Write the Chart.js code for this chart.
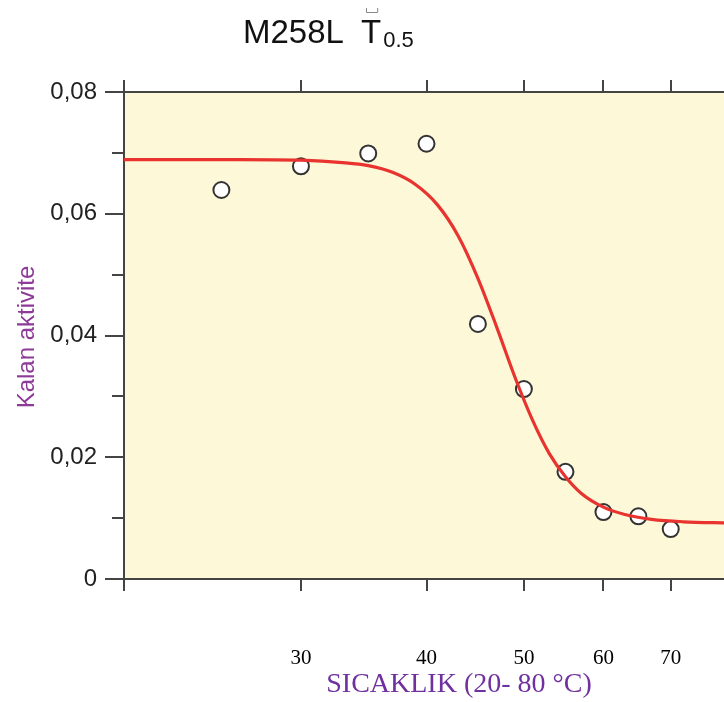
<!DOCTYPE html>
<html>
<head>
<meta charset="utf-8">
<script src="https://cdn.jsdelivr.net/npm/chart.js@4/dist/chart.umd.min.js"></script>
<style>
  html, body { margin: 0; padding: 0; overflow: hidden; background: #fff; }
  canvas { display: block; }
</style>
</head>
<body>
<canvas id="myChart" width="740" height="702"></canvas>
<script>
// measured points
const temps = [25, 30, 35, 40, 45, 50, 55, 60, 65, 70];
const activity = [0.0639, 0.0678, 0.0699, 0.0715, 0.0419, 0.0312, 0.0176, 0.0110, 0.0103, 0.0082];

// fitted curve
const curveTemps = [20, 26, 30, 33, 35, 37, 39, 41, 43, 45, 47, 49, 51, 53, 55, 57, 60, 63, 67, 72, 80];
const curveActivity = [0.0689, 0.0689, 0.0688, 0.0684, 0.0679, 0.0668, 0.0648, 0.0615, 0.0564, 0.0494,
  0.0413, 0.0331, 0.0261, 0.0206, 0.0168, 0.0141, 0.0118, 0.0106, 0.0098, 0.0094, 0.0092];

const xTicks = [20, 30, 40, 50, 60, 70, 80];
const xLabels = ['', '30', '40', '50', '60', '70', ''];
const yTicks = [0, 0.01, 0.02, 0.03, 0.04, 0.05, 0.06, 0.07, 0.08];
const yLabels = ['0', '', '0,02', '', '0,04', '', '0,06', '', '0,08'];
const yMinor = [0.01, 0.03, 0.05, 0.07];

const axisColor = '#444';

const plotBackground = {
  id: 'plotBackground',
  beforeDraw( chart ) {
    const { ctx, chartArea: a } = chart;
    ctx.save();
    ctx.fillStyle = '#fdf9d8';
    ctx.fillRect( a.left, a.top, a.right - a.left, a.bottom - a.top );
    ctx.restore();
  }
};

const extras = {
  id: 'extras',
  afterDraw( chart ) {
    const { ctx, chartArea: a } = chart;
    const y = chart.scales.y;
    ctx.save();

    // short minor ticks on the y axis
    ctx.strokeStyle = axisColor;
    ctx.lineWidth = 2;
    yMinor.forEach( v => {
      const py = Math.round( y.getPixelForValue( v ) );
      ctx.beginPath();
      ctx.moveTo( a.left - 12, py );
      ctx.lineTo( a.left, py );
      ctx.stroke();
    });

    // title
    ctx.fillStyle = '#111';
    ctx.textBaseline = 'alphabetic';
    ctx.font = '33px "Liberation Sans", Arial, sans-serif';
    ctx.fillText( 'M258L', 243, 43 );
    const tx = 361;
    ctx.fillText( 'T', tx, 43 );
    const tW = ctx.measureText( 'T' ).width;
    ctx.font = '22px "Liberation Sans", Arial, sans-serif';
    ctx.fillText( '0.5', tx + tW + 2, 47 );
    // small bracket over the T
    ctx.strokeStyle = '#888';
    ctx.lineWidth = 1;
    ctx.beginPath();
    ctx.moveTo( tx + 5.5, 8 );
    ctx.lineTo( tx + 5.5, 12.5 );
    ctx.lineTo( tx + tW - 3.5, 12.5 );
    ctx.lineTo( tx + tW - 3.5, 8 );
    ctx.stroke();

    // axis titles
    ctx.fillStyle = '#7030a0';
    ctx.font = '28px "Liberation Serif", "Times New Roman", serif';
    ctx.textAlign = 'center';
    ctx.textBaseline = 'middle';
    ctx.fillText( 'SICAKLIK (20- 80 °C)', 459, 685 );

    ctx.translate( 27, 337 );
    ctx.rotate( -Math.PI / 2 );
    ctx.fillStyle = '#8e3a98';
    ctx.font = '24px "Liberation Sans", Arial, sans-serif';
    ctx.fillText( 'Kalan aktivite', 0, 0 );
    ctx.restore();
  }
};

const xGrid = {
  drawOnChartArea: false,
  drawTicks: true,
  tickLength: 12,
  color: axisColor,
  lineWidth: 2
};

const options = {
  responsive: false,
  animation: false,
  layout: {
    padding: { top: 80, right: 11, bottom: 0, left: 0 }
  },
  plugins: {
    legend: { display: false },
    tooltip: { enabled: false }
  },
  scales: {
    x: {
      type: 'logarithmic',
      position: 'bottom',
      min: 20,
      max: 80,
      afterBuildTicks: scale => { scale.ticks = xTicks.map( v => ({ value: v }) ); },
      afterFit: scale => { scale.height = 123; },
      border: { display: true, color: axisColor, width: 2 },
      grid: xGrid,
      ticks: {
        autoSkip: false,
        maxRotation: 0,
        padding: 4,
        color: '#000',
        // tall line box pushes the labels well below the axis
        font: { family: '"Liberation Serif", "Times New Roman", serif', size: 21, lineHeight: 6.0 },
        callback: ( value, i ) => xLabels[ i ]
      }
    },
    xTop: {
      type: 'logarithmic',
      position: 'top',
      min: 20,
      max: 80,
      afterBuildTicks: scale => { scale.ticks = xTicks.map( v => ({ value: v }) ); },
      afterFit: scale => { scale.height = 12; },
      border: { display: true, color: axisColor, width: 2 },
      grid: xGrid,
      ticks: { display: false }
    },
    y: {
      min: 0,
      max: 0.08,
      afterBuildTicks: scale => { scale.ticks = yTicks.map( v => ({ value: v }) ); },
      afterFit: scale => { scale.width = 124; },
      border: { display: true, color: axisColor, width: 2 },
      grid: {
        drawOnChartArea: false,
        tickLength: 19,
        lineWidth: 2,
        color: axisColor,
        tickColor: ctx => yLabels[ ctx.index ] === '' ? 'rgba(0,0,0,0)' : axisColor
      },
      ticks: {
        autoSkip: false,
        padding: 8,
        color: '#222',
        font: { family: '"Liberation Sans", Arial, sans-serif', size: 24 },
        callback: ( value, i ) => yLabels[ i ]
      }
    }
  }
};

const data = {
  datasets: [
    {
      type: 'line',
      label: 'fit',
      data: curveTemps.map( ( t, i ) => ({ x: t, y: curveActivity[ i ] }) ),
      borderColor: '#e8332f',
      borderWidth: 3.2,
      pointRadius: 0,
      cubicInterpolationMode: 'monotone',
      xAxisID: 'x',
      yAxisID: 'y'
    },
    {
      type: 'scatter',
      label: 'Kalan aktivite',
      data: temps.map( ( t, i ) => ({ x: t, y: activity[ i ] }) ),
      pointRadius: 8,
      pointBackgroundColor: '#fff',
      pointBorderColor: '#333',
      pointBorderWidth: 2,
      xAxisID: 'x',
      yAxisID: 'y'
    }
  ]
};

new Chart( document.getElementById('myChart'), {
  data,
  options,
  plugins: [ plotBackground, extras ]
});
</script>
</body>
</html>
